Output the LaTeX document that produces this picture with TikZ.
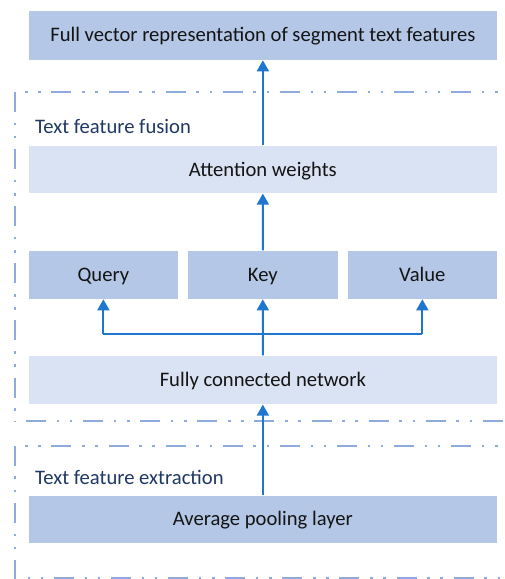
\documentclass[tikz,border=0pt]{standalone}
\usepackage{fontspec}
\setmainfont{Carlito}
\usetikzlibrary{arrows.meta}
\definecolor{boxdark}{RGB}{180,199,231}
\definecolor{boxlight}{RGB}{218,227,243}
\definecolor{arrowblue}{RGB}{30,118,206}
\definecolor{frameblue}{RGB}{143,170,220}
\definecolor{labelnavy}{RGB}{31,56,100}
\definecolor{boxtext}{RGB}{20,20,20}
\tikzset{
  boxfont/.style={font=\fontsize{20.7}{24}\selectfont, text height=13.3bp, text depth=0bp},
  darkbox/.style={rectangle, fill=boxdark, draw=white, line width=0.6bp, inner sep=0pt, text=boxtext, boxfont},
  lightbox/.style={rectangle, fill=boxlight, draw=white, line width=0.6bp, inner sep=0pt, text=boxtext, boxfont},
  grouplabel/.style={anchor=base west, inner sep=0pt, text=labelnavy, font=\fontsize{20.7}{24}\selectfont},
  flow/.style={draw=arrowblue, line width=1.9bp, -{Triangle[width=12bp,length=11bp]}},
  bus/.style={draw=arrowblue, line width=1.9bp},
  frameA/.style={draw=frameblue, line width=2.3bp, dash pattern=on 2.5bp off 10.7bp on 2.5bp off 10.7bp on 20bp off 10.7bp},
  frameB/.style={draw=frameblue, line width=2.3bp, dash pattern=on 20bp off 10.7bp on 2.5bp off 10.7bp on 2.5bp off 10.7bp}
}
\begin{document}
\begin{tikzpicture}[x=1bp,y=-1bp]
\clip (0,0) rectangle (505,579);
\fill[white] (0,0) rectangle (505,579);

% frames
\draw[frameA] (25,92) -- (512,92);
\draw[frameB] (15,92) -- (15,422);
\draw[frameB] (26,421) -- (512,421);
\draw[frameA] (25,445.7) -- (512,445.7);
\draw[frameB] (15,445.7) -- (15,580);
\draw[frameA] (27.5,577.7) -- (512,577.7);

% labels
\node[grouplabel] (lfusion) at (35,134) {Text feature fusion};
\node[grouplabel] (lextract) at (35,484) {Text feature extraction};

% boxes
\node[darkbox, minimum width=469.7bp, minimum height=50bp] (full) at (262.85,35) {Full vector representation of segment text features};
\node[lightbox, minimum width=469.7bp, minimum height=47.6bp] (att) at (262.85,169.5) {Attention weights};
\node[darkbox, minimum width=150.7bp, minimum height=48.3bp] (query) at (103.35,274.85) {Query};
\node[darkbox, minimum width=151bp, minimum height=48.3bp] (key) at (262.8,274.85) {Key};
\node[darkbox, minimum width=150.7bp, minimum height=48.3bp] (value) at (422.35,274.85) {Value};
\node[lightbox, minimum width=469.7bp, minimum height=48.6bp] (fc) at (262.85,380) {Fully connected network};
\node[darkbox, minimum width=469.7bp, minimum height=48.3bp] (avg) at (262.85,519.2) {Average pooling layer};

% connectors
\coordinate (busL) at (query.south |- 0,334.3);
\coordinate (busR) at (value.south |- 0,334.3);
\draw[flow] (att.north) -- (full.south);
\draw[flow] (key.north) -- (att.south);
\draw[flow] (fc.north) -- (key.south);
\draw[bus] (busL) -- (busR);
\draw[flow] (busL) -- (query.south);
\draw[flow] (busR) -- (value.south);
\draw[flow] (avg.north) -- (fc.south);
\end{tikzpicture}
\end{document}
